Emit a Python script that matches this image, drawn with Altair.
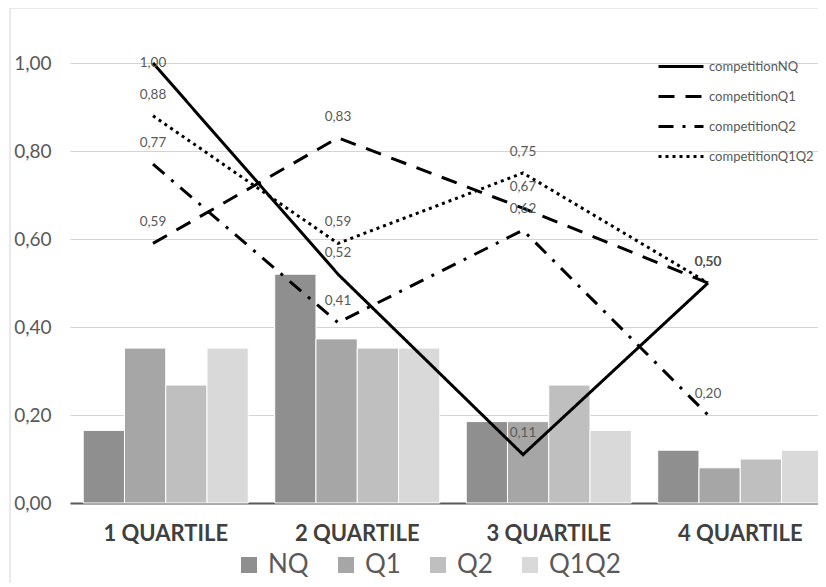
import altair as alt
import pandas as pd

quartiles = ["1 QUARTILE", "2 QUARTILE", "3 QUARTILE", "4 QUARTILE"]

bar_series = ["NQ", "Q1", "Q2", "Q1Q2"]
bar_colors = ["#8f8f8f", "#a6a6a6", "#bfbfbf", "#d9d9d9"]
bar_NQ = [0.165, 0.52, 0.185, 0.12]
bar_Q1 = [0.352, 0.373, 0.185, 0.08]
bar_Q2 = [0.268, 0.352, 0.268, 0.10]
bar_Q1Q2 = [0.352, 0.352, 0.165, 0.12]

line_series = ["competitionNQ", "competitionQ1", "competitionQ2", "competitionQ1Q2"]
line_NQ = [1.00, 0.52, 0.11, 0.50]
line_Q1 = [0.59, 0.83, 0.67, 0.50]
line_Q2 = [0.77, 0.41, 0.62, 0.20]
line_Q1Q2 = [0.88, 0.59, 0.75, 0.50]
line_dashes = [[1, 0], [16, 11], [15, 9, 3, 9], [3, 4]]

y_ticks = [0, 0.2, 0.4, 0.6, 0.8, 1.0]

FONT = "Lato"

bar_rows = []
for s, vals in zip(bar_series, [bar_NQ, bar_Q1, bar_Q2, bar_Q1Q2]):
    for q, v in zip(quartiles, vals):
        bar_rows.append({"quartile": q, "series": s, "value": v})
bars_df = pd.DataFrame(bar_rows)

line_rows = []
for s, vals in zip(line_series, [line_NQ, line_Q1, line_Q2, line_Q1Q2]):
    for q, v in zip(quartiles, vals):
        line_rows.append({"quartile": q, "series": s, "value": v,
                          "label": f"{v:.2f}".replace(".", ",")})
lines_df = pd.DataFrame(line_rows)

y_scale = alt.Scale(domain=[0, 1], nice=False)
y_axis = alt.Axis(
    values=y_ticks, title=None, domain=False, ticks=False,
    labelExpr="replace(format(datum.value, '.2f'), '.', ',')",
    gridColor="#d4d4d4", labelFont=FONT, labelFontSize=19,
    labelColor="#595959", labelPadding=17,
)

border = alt.Chart(pd.DataFrame({"a": [0]})).mark_rect(
    fillOpacity=0, stroke="#d4d4d4", strokeWidth=1
).encode(
    x=alt.value(-58), x2=alt.value(820), y=alt.value(-55), y2=alt.value(620)
)

bars = alt.Chart(bars_df).mark_bar(stroke="white", strokeWidth=1).encode(
    x=alt.X(
        "quartile:N", sort=quartiles,
        scale=alt.Scale(range=[2, 768], paddingInner=0.138, paddingOuter=0.069),
        axis=alt.Axis(
            title=None, labelAngle=0, domainColor="#595959", domainWidth=2,
            ticks=False, labelFont=FONT, labelFontWeight="bold", labelFontSize=22,
            labelColor="#404040", labelPadding=20,
        ),
    ),
    xOffset=alt.XOffset("series:N", sort=bar_series,
                        scale=alt.Scale(paddingInner=0, paddingOuter=0)),
    y=alt.Y("value:Q", scale=y_scale, axis=y_axis),
    color=alt.Color(
        "series:N", sort=bar_series,
        scale=alt.Scale(domain=bar_series, range=bar_colors),
        legend=alt.Legend(
            title=None, orient="none", direction="horizontal",
            legendX=168, legendY=489, padding=0,
            symbolType="square", symbolSize=256, symbolStrokeWidth=0,
            labelFont=FONT, labelFontSize=26, labelColor="#595959",
            labelOffset=6, columnPadding=24,
        ),
    ),
)

line_x = alt.X("quartile:N", sort=quartiles,
               scale=alt.Scale(type="point", range=[85, 640], padding=0), axis=None)

lines = alt.Chart(lines_df).mark_line(color="black", strokeWidth=3).encode(
    x=line_x,
    y=alt.Y("value:Q", scale=y_scale, axis=y_axis),
    strokeDash=alt.StrokeDash(
        "series:N", sort=line_series,
        scale=alt.Scale(domain=line_series, range=line_dashes),
        legend=alt.Legend(
            title=None, orient="none", legendX=589, legendY=-7, padding=0,
            symbolType="M-1,0H4", symbolSize=324, symbolStrokeColor="black",
            symbolStrokeWidth=3, labelFont=FONT, labelFontSize=13,
            labelColor="#595959", labelOffset=31, rowPadding=12,
        ),
    ),
)

texts = alt.Chart(lines_df).transform_calculate(
    ly="min(datum.value + 0.048, 1)"
).mark_text(font=FONT, fontSize=13.5, color="#595959").encode(
    x=line_x,
    y=alt.Y("ly:Q", scale=y_scale, axis=y_axis),
    text="label:N",
)

line_layer = alt.layer(lines, texts)

chart = alt.layer(border, bars, line_layer).resolve_scale(
    x="independent"
).properties(
    width=750, height=440,
    autosize=alt.AutoSizeParams(type="none"),
    padding={"left": 60, "top": 55, "right": 0, "bottom": 80},
).configure_view(stroke=None)

chart.save("out.html", embed_options={"renderer": "svg", "actions": False})
